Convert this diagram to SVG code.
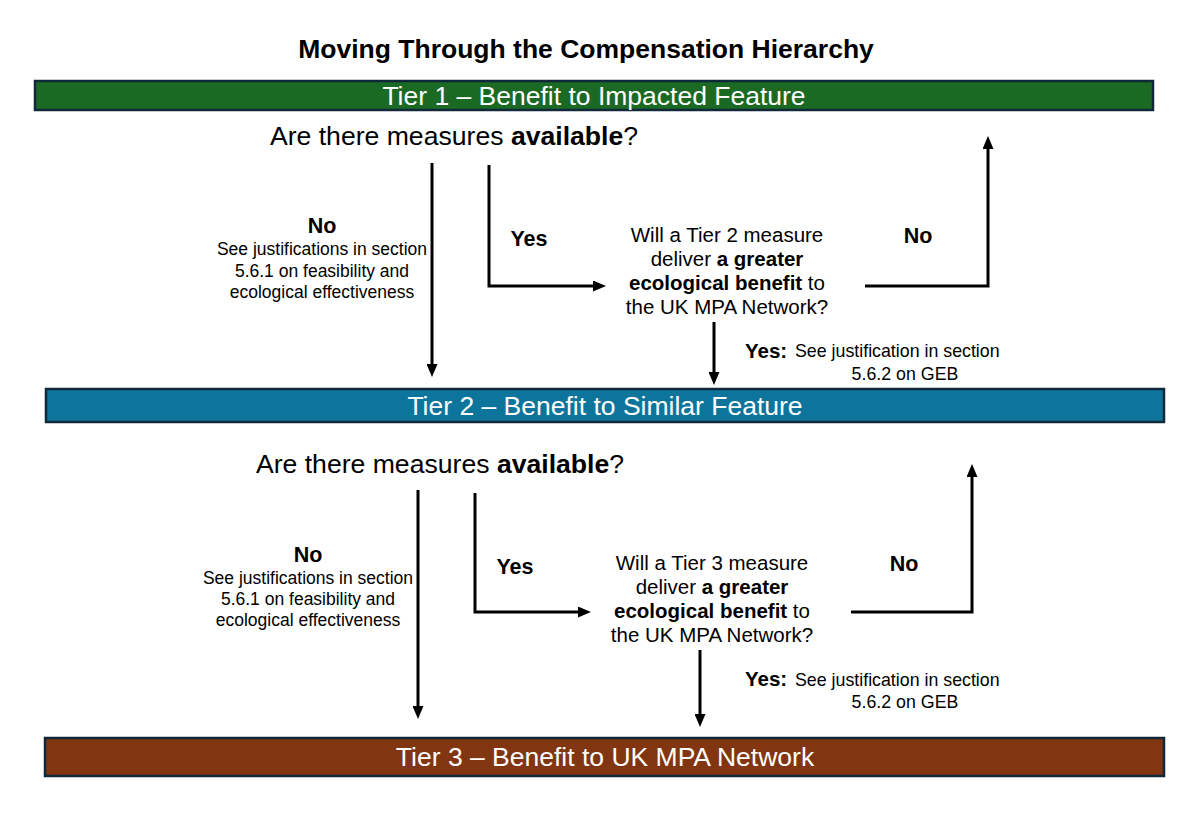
<svg xmlns="http://www.w3.org/2000/svg" width="1202" height="816" viewBox="0 0 1202 816">
<style>
text{font-family:"Liberation Sans",Arial,sans-serif;fill:#000}
.title{font-size:26.5px;font-weight:bold;text-anchor:middle}
.bar{stroke:#10283a;stroke-width:2.5}
.barText{font-size:26.5px;fill:#fff;text-anchor:middle}
.q{font-size:26.6px;text-anchor:middle}
.b{font-weight:bold}
.lbl{font-size:21.5px;font-weight:bold;text-anchor:middle}
.note{font-size:17.5px;text-anchor:middle}
.qs{font-size:20.5px;text-anchor:middle}
.yn{font-size:20.5px;font-weight:bold}
.js{font-size:17.8px}
.conn{fill:none;stroke:#000;stroke-width:3;marker-end:url(#arr)}
</style>
<defs>
<marker id="arr" markerUnits="userSpaceOnUse" markerWidth="13" markerHeight="11" refX="8" refY="5.5" orient="auto">
<path d="M0,0 L13,5.5 L0,11 z" fill="#000"/>
</marker>
</defs>
<rect width="1202" height="816" fill="#fff"/>
<text class="title" x="586" y="58">Moving Through the Compensation Hierarchy</text>

<g id="tier1">
<rect class="bar" x="35" y="81" width="1118" height="29" fill="#1b6a24"/>
<text class="barText" x="594" y="105">Tier 1 – Benefit to Impacted Feature</text>
</g>
<g id="q1">
<text class="q" x="454" y="145">Are there measures <tspan class="b">available</tspan>?</text>
</g>
<g id="no1">
<text class="lbl" x="322" y="233">No</text>
<text class="note" x="322" y="255">See justifications in section</text>
<text class="note" x="322" y="277">5.6.1 on feasibility and</text>
<text class="note" x="322" y="298">ecological effectiveness</text>
</g>
<g id="yes1"><text class="lbl" x="529" y="246">Yes</text></g>
<g id="greater1">
<text class="qs" x="727" y="242">Will a Tier 2 measure</text>
<text class="qs" x="727" y="266">deliver <tspan class="b">a greater</tspan></text>
<text class="qs" x="727" y="290"><tspan class="b">ecological benefit</tspan> to</text>
<text class="qs" x="727" y="314">the UK MPA Network?</text>
</g>
<g id="no1r"><text class="lbl" x="918" y="243">No</text></g>
<g id="yes1d">
<text class="yn" x="745" y="358">Yes:</text>
<text class="js" x="795" y="357">See justification in section</text>
<text class="js" x="905" y="380" text-anchor="middle">5.6.2 on GEB</text>
</g>

<g id="tier2">
<rect class="bar" x="46" y="389" width="1118" height="33" fill="#0d749c"/>
<text class="barText" x="605" y="415">Tier 2 – Benefit to Similar Feature</text>
</g>
<g id="q2">
<text class="q" x="440" y="473">Are there measures <tspan class="b">available</tspan>?</text>
</g>
<g id="no2">
<text class="lbl" x="308" y="562">No</text>
<text class="note" x="308" y="584">See justifications in section</text>
<text class="note" x="308" y="605">5.6.1 on feasibility and</text>
<text class="note" x="308" y="626">ecological effectiveness</text>
</g>
<g id="yes2"><text class="lbl" x="515" y="574">Yes</text></g>
<g id="greater2">
<text class="qs" x="712" y="570">Will a Tier 3 measure</text>
<text class="qs" x="712" y="594">deliver <tspan class="b">a greater</tspan></text>
<text class="qs" x="712" y="618"><tspan class="b">ecological benefit</tspan> to</text>
<text class="qs" x="712" y="642">the UK MPA Network?</text>
</g>
<g id="no2r"><text class="lbl" x="904" y="571">No</text></g>
<g id="yes2d">
<text class="yn" x="745" y="686">Yes:</text>
<text class="js" x="795" y="686">See justification in section</text>
<text class="js" x="905" y="708" text-anchor="middle">5.6.2 on GEB</text>
</g>

<g id="tier3">
<rect class="bar" x="45" y="738" width="1119" height="38" fill="#813511"/>
<text class="barText" x="605" y="766">Tier 3 – Benefit to UK MPA Network</text>
</g>

<g id="connectors">
<path class="conn" d="M432,163 V372"/>
<path class="conn" d="M489,165 V286 H601"/>
<path class="conn" d="M865,286 H988 V141"/>
<path class="conn" d="M714,322 V380"/>
<path class="conn" d="M418,490 V714"/>
<path class="conn" d="M475,493 V612 H586"/>
<path class="conn" d="M851,612 H972 V469"/>
<path class="conn" d="M700,650 V722"/>
</g>
</svg>
